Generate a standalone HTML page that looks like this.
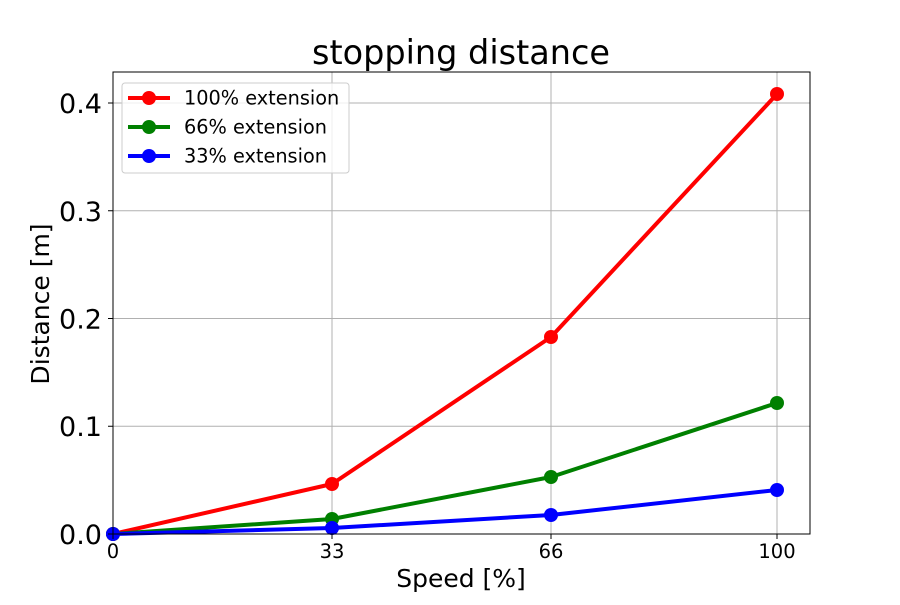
<!DOCTYPE html>
<html><head><meta charset="utf-8"><style>body{margin:0;background:#fff}</style></head><body>
<svg width="900" height="600" xmlns="http://www.w3.org/2000/svg" font-family="DejaVu Sans, Liberation Sans, sans-serif">
<rect width="900" height="600" fill="#fff"/>
<g stroke="#b0b0b0" stroke-width="1">
<line x1="332" y1="72" x2="332" y2="534"/><line x1="551" y1="72" x2="551" y2="534"/><line x1="777" y1="72" x2="777" y2="534"/>
<line x1="113" y1="426.25" x2="810" y2="426.25"/><line x1="113" y1="318.5" x2="810" y2="318.5"/><line x1="113" y1="210.75" x2="810" y2="210.75"/><line x1="113" y1="103" x2="810" y2="103"/>
</g>
<g stroke-width="4" fill="none" stroke-linejoin="round">
<polyline stroke="#ff0000" points="113,534 332,484 551,337 777,94"/>
<polyline stroke="#008000" points="113,534 332,519 551,477 777,403"/>
<polyline stroke="#0000ff" points="113,534 332,528 551,515 777,490"/>
</g>
<g fill="#ff0000"><circle cx="113" cy="534" r="7"/><circle cx="332" cy="484" r="7"/><circle cx="551" cy="337" r="7"/><circle cx="777" cy="94" r="7"/></g>
<g fill="#008000"><circle cx="113" cy="534" r="7"/><circle cx="332" cy="519" r="7"/><circle cx="551" cy="477" r="7"/><circle cx="777" cy="403" r="7"/></g>
<g fill="#0000ff"><circle cx="113" cy="534" r="7"/><circle cx="332" cy="528" r="7"/><circle cx="551" cy="515" r="7"/><circle cx="777" cy="490" r="7"/></g>
<rect x="113" y="72" width="697" height="462" fill="none" stroke="#000" stroke-width="1"/>
<g stroke="#000"><line x1="113" y1="534" x2="113" y2="539"/><line x1="332" y1="534" x2="332" y2="539"/><line x1="551" y1="534" x2="551" y2="539"/><line x1="777" y1="534" x2="777" y2="539"/>
<line x1="108" y1="534" x2="113" y2="534"/><line x1="108" y1="426.25" x2="113" y2="426.25"/><line x1="108" y1="318.5" x2="113" y2="318.5"/><line x1="108" y1="210.75" x2="113" y2="210.75"/><line x1="108" y1="103" x2="113" y2="103"/></g>
<g font-size="19.5" text-anchor="middle"><text x="113" y="558">0</text><text x="332" y="558">33</text><text x="551" y="558">66</text><text x="777" y="558">100</text></g>
<g font-size="27" text-anchor="end"><text x="102" y="544">0.0</text><text x="102" y="436">0.1</text><text x="102" y="328.5">0.2</text><text x="102" y="221">0.3</text><text x="102" y="113">0.4</text></g>
<text x="461" y="587" font-size="25" text-anchor="middle">Speed [%]</text>
<text transform="translate(49,304) rotate(-90)" font-size="25" text-anchor="middle">Distance [m]</text>
<text x="461" y="64" font-size="33.5" text-anchor="middle">stopping distance</text>
<rect x="122" y="83" width="227" height="90" rx="3" fill="#fff" fill-opacity="0.8" stroke="#ccc"/>
<line x1="128" y1="98" x2="170" y2="98" stroke="#ff0000" stroke-width="4"/><circle cx="149" cy="98" r="7" fill="#ff0000"/>
<line x1="128" y1="127" x2="170" y2="127" stroke="#008000" stroke-width="4"/><circle cx="149" cy="127" r="7" fill="#008000"/>
<line x1="128" y1="156" x2="170" y2="156" stroke="#0000ff" stroke-width="4"/><circle cx="149" cy="156" r="7" fill="#0000ff"/>
<g font-size="19.3"><text x="184" y="104.5">100% extension</text><text x="184" y="133.5">66% extension</text><text x="184" y="162.5">33% extension</text></g>
</svg>
</body></html>
